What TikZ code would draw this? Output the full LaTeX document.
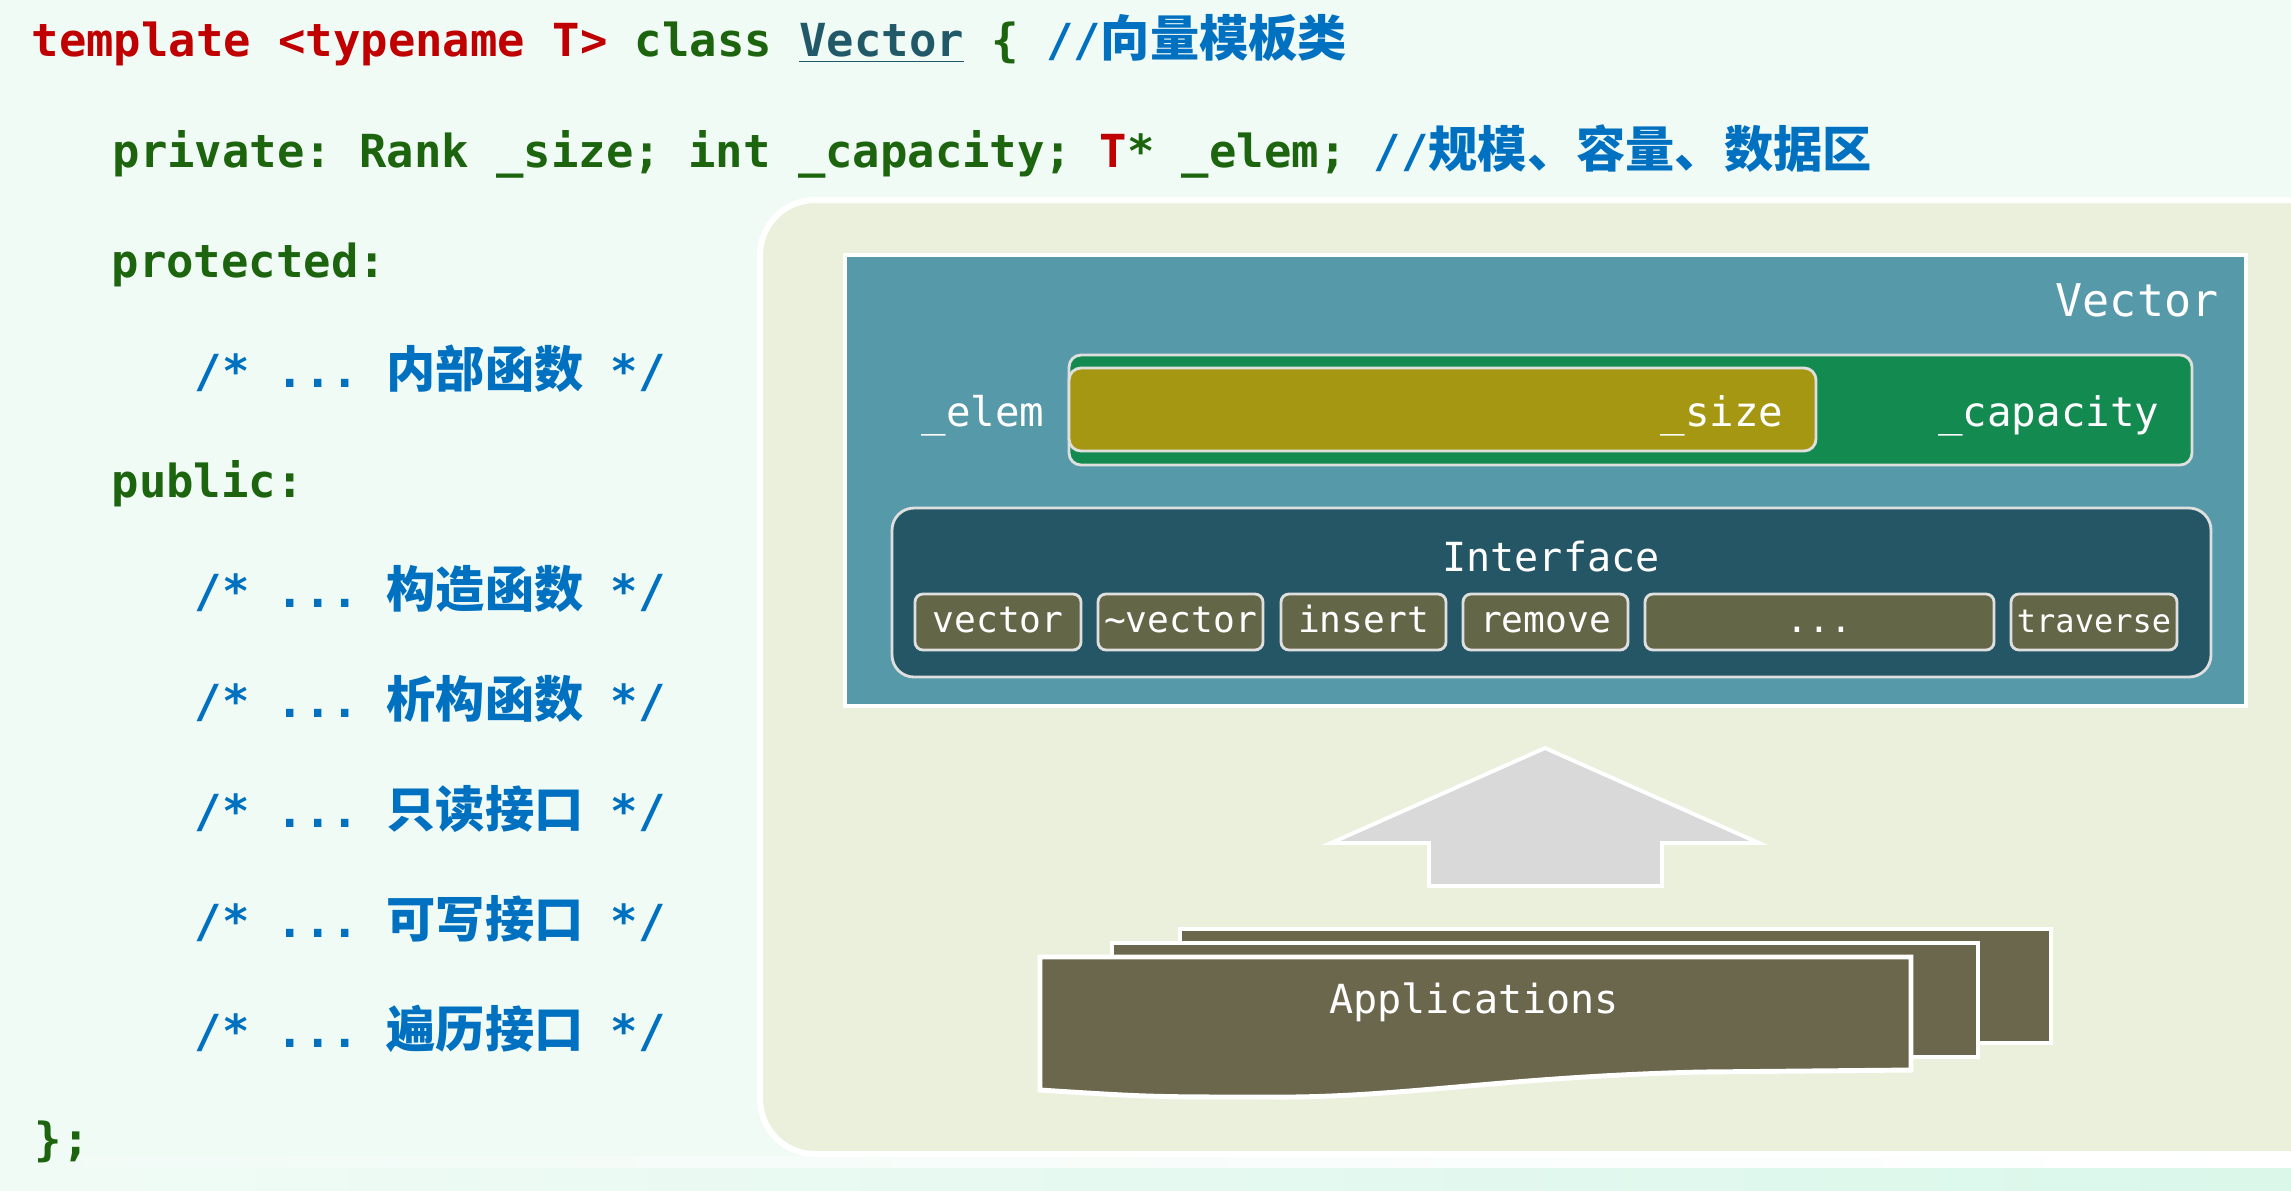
\documentclass[tikz,border=0pt]{standalone}
\usepackage{fontspec}
\setmonofont{DejaVu Sans Mono}
\newfontfamily\cjk{Noto Sans CJK SC}
\usetikzlibrary{positioning,fit}

\definecolor{kwred}{RGB}{192,0,0}
\definecolor{kwgreen}{RGB}{28,100,14}
\definecolor{cmtblue}{RGB}{0,112,192}
\definecolor{clsteal}{RGB}{33,89,104}
\definecolor{pagebg}{RGB}{241,251,246}
\definecolor{stripmint}{RGB}{218,247,234}
\definecolor{panelbg}{RGB}{235,240,221}
\definecolor{vecteal}{RGB}{86,153,169}
\definecolor{capgreen}{RGB}{19,139,80}
\definecolor{sizeolive}{RGB}{165,151,17}
\definecolor{ifdark}{RGB}{36,86,101}
\definecolor{btnolive}{RGB}{99,102,71}
\definecolor{appolive}{RGB}{107,103,77}
\definecolor{arrowgray}{RGB}{217,217,217}

\newcommand\codefont{\ttfamily\bfseries\fontsize{12.95}{15}\selectfont}
\newcommand\boxfont{\ttfamily\fontsize{11.6}{13}\selectfont}
\newcommand\zh[1]{{\cjk\bfseries\fontsize{14}{15}\selectfont #1}}

\begin{document}
\begin{tikzpicture}[x=0.01cm,y=-0.01cm,
  code/.style={anchor=base west,inner sep=0,font=\codefont,text=kwgreen},
  cmt/.style={code,text=cmtblue},
  lbl/.style={inner sep=0,font=\boxfont,text=white},
  bar/.style={draw=white!75!gray,line width=0.8pt,rounded corners=0.12cm,inner sep=0},
  btn/.style={bar,fill=btnolive,rounded corners=0.08cm},
  btntext/.style={lbl,anchor=base,font=\ttfamily\fontsize{10.3}{12}\selectfont},
  doc/.style={fill=appolive,draw=white,line width=1.4pt,inner sep=0}]
  \useasboundingbox (0,0) rectangle (2291,1190);
  \clip (0,0) rectangle (2291,1190);
  \fill[pagebg] (0,0) rectangle (2291,1190);
  \shade[left color=pagebg,right color=white] (0,1156) rectangle (2291,1168);
  \shade[left color=pagebg,right color=stripmint] (0,1168) rectangle (2291,1190);

  % code
  \node[code] (l0) at (31,56) {\color{kwred}template <typename T> \color{kwgreen}class \color{clsteal}\underline{Vector} \color{kwgreen}\{ \color{cmtblue}//\zh{向量模板类}};
  \node[code] (l1) at (112,167) {private: Rank \_size; int \_capacity; \color{kwred}T\color{kwgreen}* \_elem; \color{cmtblue}//\zh{规模、容量、数据区}};
  \node[code] (prot) at (111,277) {protected:};
  \node[cmt] (inner) at (194,387) {/* ... \zh{内部函数} */};
  \node[code] (pub) at (111,497) {public:};
  \node[cmt] (ctor) at (194,607) {/* ... \zh{构造函数} */};
  \node[cmt] (dtor) at (194,717) {/* ... \zh{析构函数} */};
  \node[cmt] (rd) at (194,827) {/* ... \zh{只读接口} */};
  \node[cmt] (wr) at (194,937) {/* ... \zh{可写接口} */};
  \node[cmt] (trav) at (194,1047) {/* ... \zh{遍历接口} */};
  \node[code] (close) at (34,1155) {\};};

  % panel
  \draw[fill=panelbg,draw=white,line width=1.7pt,rounded corners=0.55cm] (2330,200) -- (760,200) -- (760,1154) -- (2330,1154);

  % vector
  \node[fit={(845,255)(2246,706)},inner sep=0,fill=vecteal,draw=white,line width=1.4pt] (vec) {};
  \node[lbl,anchor=base east,font=\ttfamily\fontsize{12.8}{14}\selectfont] (vecname) at (2219,316) {Vector};
  \node[bar,fill=capgreen,fit={(1069,355)(2192,465)}] (cap) {};
  \node[bar,fill=sizeolive,fit={(1069,368)(1816,451)}] (size) {};
  \node[lbl,anchor=base east] (elem) at (1045,426) {\_elem};
  \node[lbl,anchor=base east] (sizet) at (1784,426) {\_size};
  \node[lbl,anchor=base east] (capt) at (2160,426) {\_capacity};

  \node[bar,fill=ifdark,rounded corners=0.22cm,fit={(892,508)(2211,677)}] (iface) {};
  \node[lbl,anchor=base,font=\ttfamily\fontsize{11.4}{13}\selectfont] (ifacet) at (1551,571) {Interface};
  \node[btn,fit={(915,594)(1081,650)}] (bvec) {};
  \node[btn,fit={(1098,594)(1263,650)}] (bdel) {};
  \node[btn,fit={(1281,594)(1446,650)}] (bins) {};
  \node[btn,fit={(1463,594)(1628,650)}] (brem) {};
  \node[btn,fit={(1645,594)(1994,650)}] (bdots) {};
  \node[btn,fit={(2011,594)(2177,650)}] (btrav) {};
  \node[btntext] at ([yshift=-0.1cm]bvec.center) {vector};
  \node[btntext] at ([yshift=-0.1cm]bdel.center) {\textasciitilde vector};
  \node[btntext] at ([yshift=-0.1cm]bins.center) {insert};
  \node[btntext] at ([yshift=-0.1cm]brem.center) {remove};
  \node[btntext] at ([yshift=-0.1cm]bdots.center) {...};
  \node[btntext,font=\ttfamily\fontsize{9.1}{11}\selectfont] at ([yshift=-0.1cm]btrav.center) {traverse};

  % arrow
  \draw[fill=arrowgray,draw=white,line width=1.1pt] (1545,748) -- (1759,843) -- (1662,843) -- (1662,886) -- (1429,886) -- (1429,843) -- (1331,843) -- cycle;

  % applications
  \node[doc,fit={(1180,929)(2051,1043)}] (app3) {};
  \node[doc,fit={(1112,943)(1978,1057)}] (app2) {};
  \draw[fill=appolive,draw=white,line width=1.4pt] (1040,957) -- (1911,957) -- (1911,1070) -- (1700,1072) .. controls (1500,1077) and (1400,1098) .. (1272,1097) .. controls (1150,1097) .. (1040,1090) -- cycle;
  \node[lbl,anchor=base,font=\ttfamily\fontsize{11.4}{13}\selectfont] (app1) at (1474,1013) {Applications};
\end{tikzpicture}
\end{document}
